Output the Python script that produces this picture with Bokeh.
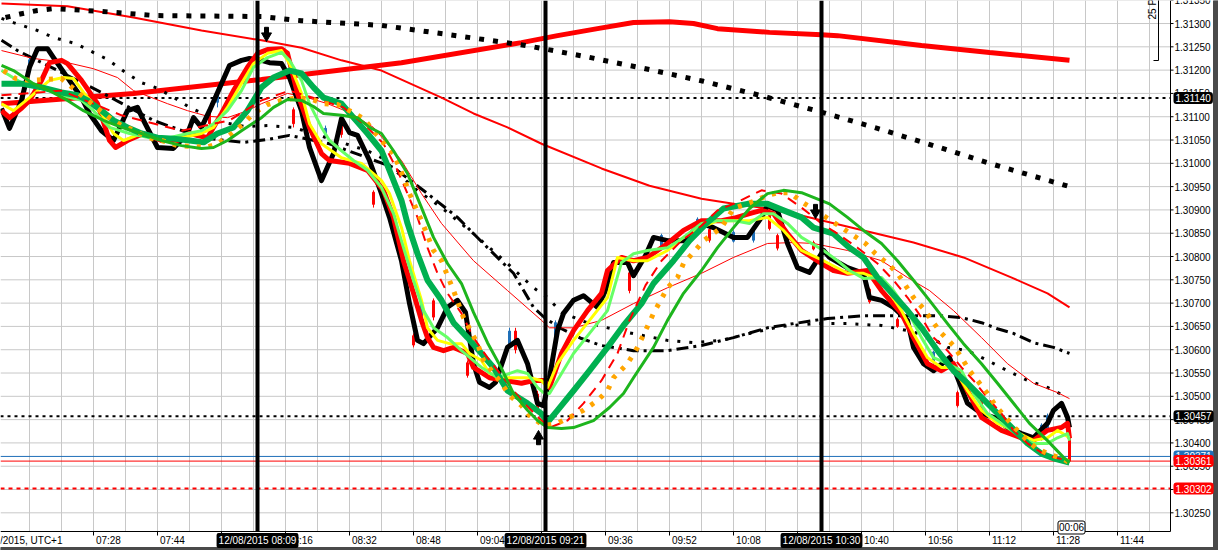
import math
from bokeh.plotting import figure
from bokeh.models import Label, Range1d
from bokeh.embed import file_html
from bokeh.resources import INLINE
from bokeh.core.properties import value

FONT = "Liberation Sans"

# ---------------- data (time = minutes after 07:00, 12/08/2015 UTC+1) ----------------
black_price = [(5,1.31118),(7,1.31075),(10,1.31135),(12,1.31206),(14,1.31246),(16.5,1.31246),(18,1.31227),(21.5,1.31184),(25,1.31141),(27,1.31107),(30,1.31070),(33,1.31049),(36.5,1.31113),(39,1.31120),(40.5,1.31092),(44,1.31034),(48,1.31032),(51.5,1.31064),(53,1.31098),(55,1.31077),(57,1.31113),(60,1.31171),(62,1.31210),(65,1.31221),(67,1.31225),(70,1.31221),(72,1.31216),(75,1.31214),(77,1.31184),(80,1.31113),(82,1.31034),(85,1.30963),(88,1.31021),(90,1.31096),(92,1.31066),(94,1.31060),(97,1.31006),(100,1.30935),(102,1.30884),(105,1.30791),(107,1.30699),(109,1.30620),(110.5,1.30613),(114,1.30647),(116.5,1.30691),(119,1.30706),(121,1.30680),(123,1.30570),(124.5,1.30530),(127,1.30519),(128.5,1.30530),(131.5,1.30605),(134,1.30620),(136.5,1.30570),(139,1.30485),(140.5,1.30480),(142,1.30540),(144,1.30641),(145.5,1.30678),(148,1.30706),(150.5,1.30716),(154,1.30691),(156,1.30727),(158,1.30787),(161.5,1.30787),(163,1.30759),(166,1.30802),(168,1.30841),(171.5,1.30834),(175.5,1.30834),(180,1.30871),(183,1.30862),(188,1.30841),(191.5,1.30841),(195,1.30884),(196.5,1.30910),(199,1.30899),(201.5,1.30828),(204,1.30776),(207,1.30766),(210.5,1.30813),(212,1.30798),(216.5,1.30776),(220.5,1.30764),(222,1.30712),(225,1.30706),(228,1.30691),(231.5,1.30663),(233,1.30605),(235.5,1.30570),(238,1.30555),(242,1.30583),(244,1.30540),(246.5,1.30485),(250,1.30463),(253,1.30455),(256.5,1.30433),(260,1.30420),(263,1.30411),(266.5,1.30442),(268,1.30470),(270,1.30485),(271.5,1.30455),(272,1.30433)]

red_fast = [(5,1.31113),(7,1.31098),(10,1.31118),(12,1.31135),(15,1.31178),(17,1.31216),(20,1.31221),(21.5,1.31214),(25,1.31178),(29,1.31128),(32,1.31049),(33.5,1.31034),(36.5,1.31049),(40.5,1.31064),(45,1.31049),(49,1.31049),(52,1.31064),(56.5,1.31055),(60,1.31107),(63,1.31156),(66.5,1.31206),(69,1.31236),(71.5,1.31244),(75,1.31246),(76.5,1.31236),(79,1.31150),(82,1.31077),(85,1.31021),(87,1.31006),(92,1.31000),(96.5,1.30985),(100.5,1.30942),(103,1.30884),(105.5,1.30791),(108,1.30721),(110,1.30663),(111.5,1.30626),(113,1.30605),(115.5,1.30598),(118,1.30605),(121.5,1.30592),(123,1.30562),(127,1.30540),(135,1.30528),(138,1.30534),(140.5,1.30534),(142,1.30519),(145,1.30592),(148,1.30641),(151.5,1.30684),(155,1.30721),(156.5,1.30770),(160,1.30798),(163,1.30791),(166.5,1.30798),(171.5,1.30828),(175.5,1.30856),(180,1.30877),(185,1.30877),(188,1.30882),(192,1.30892),(195,1.30899),(198,1.30892),(201.5,1.30849),(205,1.30813),(210,1.30785),(213,1.30770),(216.5,1.30764),(221.5,1.30770),(225,1.30727),(230,1.30678),(233,1.30626),(236.5,1.30570),(240,1.30555),(243,1.30570),(246.5,1.30512),(250,1.30455),(255,1.30427),(260,1.30411),(263,1.30405),(266.5,1.30427),(270,1.30433),(271.5,1.30442),(272,1.30410)]

yellow_ma = [(5,1.31128),(8,1.31113),(12,1.31141),(17,1.31178),(20.5,1.31184),(23,1.31182),(25.5,1.31152),(30,1.31107),(33,1.31064),(35.5,1.31049),(40,1.31064),(45,1.31055),(50,1.31055),(55,1.31064),(58,1.31077),(61.5,1.31120),(65,1.31171),(68,1.31214),(71.5,1.31236),(75,1.31242),(77,1.31214),(80,1.31150),(82,1.31085),(85,1.31042),(90,1.31012),(95,1.31000),(100,1.30963),(102,1.30935),(105,1.30862),(107,1.30791),(110,1.30706),(111.5,1.30647),(114,1.30620),(117,1.30613),(120,1.30613),(122,1.30592),(125,1.30577),(127,1.30549),(131.5,1.30540),(137,1.30540),(140,1.30534),(141.5,1.30519),(144,1.30570),(148,1.30620),(152,1.30663),(156.5,1.30712),(159,1.30798),(163,1.30791),(166.5,1.30791),(171.5,1.30813),(175.5,1.30841),(180,1.30862),(184,1.30877),(192,1.30877),(196.5,1.30884),(200.5,1.30856),(205,1.30813),(210.5,1.30791),(216.5,1.30764),(220.5,1.30764),(225,1.30749),(230,1.30684),(233,1.30635),(236.5,1.30583),(240,1.30562),(243,1.30562),(246.5,1.30512),(250,1.30470),(254,1.30442),(258,1.30427),(263,1.30405),(266.5,1.30411),(269,1.30427),(272,1.30411)]

lightgreen_ma = [(5,1.31199),(10,1.31173),(15,1.31163),(20,1.31146),(25,1.31135),(28,1.31113),(32,1.31077),(37,1.31064),(42,1.31055),(47,1.31055),(51.5,1.31064),(55,1.31070),(58,1.31085),(61.5,1.31113),(65,1.31156),(68,1.31206),(71.5,1.31227),(75,1.31238),(77,1.31221),(80,1.31178),(82,1.31128),(85,1.31077),(87,1.31049),(90,1.31027),(93,1.31006),(96.5,1.30985),(100,1.30948),(103,1.30892),(105.5,1.30819),(108,1.30749),(110.5,1.30684),(113,1.30647),(116.5,1.30626),(120,1.30598),(125,1.30562),(129,1.30540),(134,1.30555),(136.5,1.30549),(139,1.30519),(140.5,1.30508),(142,1.30506),(145,1.30549),(148,1.30592),(152,1.30635),(156.5,1.30684),(160,1.30787),(163,1.30806),(166.5,1.30813),(171.5,1.30819),(175.5,1.30841),(180,1.30871),(184,1.30877),(188,1.30877),(192,1.30871),(195.5,1.30892),(198,1.30892),(201.5,1.30871),(205,1.30841),(210.5,1.30813),(214,1.30791),(217,1.30770),(220.5,1.30753),(225,1.30755),(228,1.30727),(231.5,1.30684),(235,1.30626),(238,1.30583),(241.5,1.30570),(245,1.30555),(248,1.30506),(251.5,1.30463),(256.5,1.30433),(260,1.30411),(263,1.30399),(266.5,1.30399),(269,1.30411),(271.5,1.30420),(272,1.30405)]

darkgreen_ma = [(5,1.31171),(10,1.31171),(15,1.31163),(20,1.31152),(24,1.31146),(26.5,1.31135),(30,1.31113),(33,1.31092),(36.5,1.31077),(40,1.31064),(44,1.31055),(48,1.31053),(52,1.31049),(55.5,1.31045),(59,1.31064),(63,1.31077),(66.5,1.31113),(70,1.31163),(73,1.31184),(77,1.31199),(80,1.31193),(83,1.31163),(85.5,1.31141),(90,1.31128),(93,1.31098),(96.5,1.31064),(100,1.31027),(102,1.30985),(105,1.30920),(106.5,1.30871),(109,1.30806),(111.5,1.30749),(115,1.30706),(118,1.30658),(121.5,1.30626),(125,1.30592),(128,1.30562),(131.5,1.30512),(136.5,1.30485),(140,1.30463),(141.5,1.30444),(144,1.30470),(148,1.30512),(152,1.30555),(156.5,1.30605),(160.5,1.30652),(165,1.30699),(168,1.30742),(173,1.30791),(177,1.30834),(181.5,1.30873),(185.5,1.30903),(191.5,1.30913),(196.5,1.30913),(200.5,1.30899),(205,1.30884),(208,1.30862),(213,1.30849),(217,1.30819),(220.5,1.30798),(224,1.30755),(227,1.30727),(231.5,1.30684),(235,1.30647),(239,1.30598),(243,1.30555),(246.5,1.30528),(251.5,1.30485),(256.5,1.30442),(261.5,1.30399),(265,1.30377),(268,1.30367),(272,1.30358)]

red_dashed_ma = [(5,1.31146),(20,1.31156),(35,1.31103),(50,1.31070),(62,1.31092),(70,1.31135),(77,1.31156),(85,1.31135),(90.5,1.31120),(96.5,1.31077),(100.5,1.31042),(104,1.30985),(106.5,1.30935),(109,1.30884),(111.5,1.30819),(114,1.30764),(116.5,1.30721),(120,1.30678),(123,1.30626),(126.5,1.30583),(130,1.30545),(135,1.30491),(140,1.30448),(142,1.30433),(146.5,1.30448),(150.5,1.30485),(155,1.30534),(159,1.30592),(162,1.30663),(166,1.30738),(170,1.30791),(175,1.30834),(180,1.30866),(184,1.30899),(188,1.30913),(195,1.30942),(200,1.30935),(205,1.30905),(210,1.30871),(214,1.30849),(219,1.30819),(224,1.30785),(228,1.30749),(231.5,1.30712),(235,1.30669),(238,1.30626),(241.5,1.30598),(245,1.30562),(248,1.30534),(251.5,1.30497),(255,1.30463),(258,1.30427),(261.5,1.30399),(265,1.30379),(268,1.30369),(272,1.30362)]

orange_ma = [(5.5,1.31199),(8.5,1.31182),(12,1.31178),(16,1.31180),(20,1.31182),(25,1.31146),(29,1.31118),(32,1.31098),(35,1.31081),(38.5,1.31070),(41.5,1.31055),(45,1.31049),(49,1.31038),(53,1.31036),(56,1.31034),(59,1.31042),(62,1.31060),(65.5,1.31085),(68,1.31107),(71.5,1.31126),(75,1.31135),(78,1.31139),(82,1.31139),(85.5,1.31128),(89,1.31126),(92,1.31113),(95.5,1.31096),(100,1.31049),(103,1.31021),(105.5,1.30970),(107,1.30935),(110,1.30877),(113,1.30813),(115,1.30791),(118,1.30727),(120.5,1.30669),(124,1.30613),(125.5,1.30577),(130,1.30528),(132,1.30502),(135,1.30480),(137,1.30459),(140.5,1.30437),(144,1.30442),(147,1.30455),(150.5,1.30470),(154,1.30491),(156.5,1.30512),(158,1.30540),(161.5,1.30570),(164,1.30605),(166,1.30641),(168,1.30678),(171.5,1.30733),(174,1.30755),(175.5,1.30785),(178,1.30809),(180.5,1.30834),(185,1.30862),(188,1.30903),(192,1.30915),(196.5,1.30931),(199,1.30937),(202,1.30937),(205.5,1.30915),(211.5,1.30882),(215,1.30862),(218,1.30845),(221,1.30828),(223.5,1.30806),(226.5,1.30785),(229,1.30764),(231,1.30738),(233,1.30712),(235.5,1.30688),(238,1.30658),(240,1.30635),(243,1.30609),(245,1.30583),(247,1.30555),(249,1.30534),(251.5,1.30506),(253.5,1.30480),(256,1.30455),(258.5,1.30431),(261,1.30409),(263.5,1.30390),(266.5,1.30377),(270,1.30367),(272,1.30358)]

green_ma = [(5,1.31210),(8,1.31199),(13,1.31171),(17,1.31156),(21.5,1.31135),(25.5,1.31113),(30.5,1.31092),(35,1.31077),(40,1.31064),(45,1.31049),(50,1.31038),(55,1.31032),(58,1.31034),(61.5,1.31049),(65,1.31070),(70,1.31098),(73,1.31120),(76.5,1.31137),(80,1.31135),(83,1.31122),(85.5,1.31107),(90,1.31103),(94,1.31098),(97,1.31077),(100,1.31064),(103,1.31027),(106.5,1.30978),(110,1.30905),(113,1.30841),(116.5,1.30785),(120,1.30742),(123,1.30680),(126.5,1.30615),(130,1.30560),(133,1.30506),(136.5,1.30470),(139,1.30448),(141.5,1.30433),(145,1.30431),(148,1.30433),(153,1.30448),(157,1.30476),(160.5,1.30506),(163,1.30540),(168,1.30605),(171.5,1.30663),(175.5,1.30721),(180,1.30770),(184,1.30819),(188,1.30862),(192,1.30903),(196.5,1.30935),(200.5,1.30942),(205,1.30937),(210,1.30920),(212,1.30913),(216.5,1.30884),(220.5,1.30856),(225,1.30828),(229,1.30791),(233,1.30749),(237,1.30706),(241.5,1.30656),(245.5,1.30613),(250,1.30570),(254,1.30528),(258,1.30485),(262,1.30442),(266.5,1.30405),(270.5,1.30369),(272,1.30358)]

thin_red_ma = [(5,1.31242),(13,1.31225),(21.5,1.31216),(28,1.31203),(34,1.31184),(38,1.31156),(46.5,1.31128),(51.5,1.31113),(56.5,1.31101),(61.5,1.31098),(66.5,1.31113),(70,1.31128),(76.5,1.31150),(81.5,1.31141),(86.5,1.31128),(92,1.31109),(98,1.31077),(105,1.31006),(110,1.30935),(115,1.30871),(123,1.30791),(131.5,1.30727),(140,1.30663),(142,1.30647),(148,1.30647),(155,1.30663),(163,1.30699),(171.5,1.30733),(180,1.30764),(188,1.30798),(196.5,1.30828),(203,1.30830),(208,1.30828),(216.5,1.30813),(225,1.30791),(231.5,1.30755),(237,1.30727),(243,1.30684),(250,1.30626),(256.5,1.30570),(263,1.30528),(269,1.30508),(272,1.30495)]

slow_red_ma = [(5,1.31343),(21.5,1.31337),(38,1.31313),(55,1.31285),(70,1.31264),(80,1.31248),(90,1.31221),(100,1.31199),(115,1.31141),(123,1.31107),(131.5,1.31077),(140,1.31042),(155,1.30989),(167,1.30952),(180,1.30924),(188,1.30913),(196.5,1.30903),(205,1.30888),(220.5,1.30856),(233,1.30830),(245.5,1.30798),(258,1.30753),(266.5,1.30721),(272,1.30691)]

thick_red_ma = [(5,1.31128),(38,1.31150),(70,1.31180),(105,1.31216),(135,1.31259),(144,1.31274),(154,1.31289),(163,1.31302),(172,1.31304),(178,1.31300),(184,1.31289),(197,1.31281),(210,1.31276),(214,1.31274),(235,1.31253),(252,1.31238),(272,1.31221)]

big_dot_ma = [(6,1.31313),(10,1.31321),(14,1.31328),(18,1.31332),(30,1.31326),(43.5,1.31317),(70,1.31315),(80,1.31306),(100,1.31296),(117,1.31276),(136,1.31253),(151,1.31229),(166,1.31203),(180.5,1.31176),(195,1.31145),(209.5,1.31111),(224,1.31075),(238,1.31038),(252,1.31000),(272,1.30950)]

small_dot_ma = [(5,1.31311),(8,1.31302),(14,1.31285),(18,1.31270),(23.5,1.31257),(27,1.31242),(31.5,1.31223),(36,1.31195),(40,1.31173),(44,1.31161),(48.5,1.31139),(52,1.31120),(56.5,1.31103),(60,1.31088),(66,1.31079),(71.5,1.31081),(78,1.31077),(87,1.31053),(96.5,1.31027),(100,1.31012),(108,1.30948),(115,1.30905),(123,1.30849),(131.5,1.30785),(138,1.30733),(141.5,1.30712),(145,1.30680),(152,1.30656),(161.5,1.30637),(171.5,1.30620),(178,1.30615),(185,1.30620),(192,1.30635),(200,1.30650),(208,1.30656),(216.5,1.30656),(225,1.30652),(231.5,1.30641),(236.5,1.30630),(241.5,1.30605),(246.5,1.30598),(251.5,1.30577),(256.5,1.30555),(261.5,1.30534),(266.5,1.30519),(270.5,1.30502)]

dash_dot_ma = [(5,1.31264),(9,1.31242),(20,1.31195),(30,1.31152),(43,1.31092),(55,1.31055),(65.5,1.31045),(71.5,1.31051),(77,1.31060),(87,1.31042),(103,1.30991),(111.5,1.30935),(119,1.30884),(126.5,1.30819),(133,1.30764),(138,1.30691),(141,1.30667),(145,1.30645),(150,1.30624),(155,1.30609),(163,1.30598),(171.5,1.30598),(180,1.30609),(188,1.30626),(196.5,1.30647),(203,1.30656),(211.5,1.30667),(220.5,1.30673),(231.5,1.30673),(239.5,1.30673),(245,1.30669),(250,1.30658),(254,1.30645),(258,1.30635),(263,1.30615),(268,1.30605),(272,1.30592)]

# candles: (time, open, high, low, close)
candles = [(12,1.31203,1.31227,1.31199,1.31222),(57,1.31110,1.31113,1.31080,1.31085),(59,1.31131,1.31156,1.31120,1.31152),
           (78,1.31115,1.31120,1.31077,1.31085),(86,1.31060,1.31081,1.31055,1.31075),(90,1.31092,1.31098,1.31055,1.31062),
           (98,1.30938,1.30942,1.30905,1.30912),(108,1.30630,1.30635,1.30605,1.30610),(110,1.30673,1.30712,1.30669,1.30705),
           (113,1.30705,1.30710,1.30663,1.30670),(121.5,1.30572,1.30577,1.30540,1.30545),(132,1.30610,1.30647,1.30605,1.30640),
           (133.5,1.30640,1.30647,1.30592,1.30600),(139,1.30505,1.30512,1.30463,1.30470),(143.5,1.30630,1.30663,1.30626,1.30658),
           (162,1.30765,1.30770,1.30721,1.30727),(170,1.30822,1.30849,1.30819,1.30845),(179,1.30860,1.30884,1.30856,1.30880),
           (182,1.30858,1.30862,1.30830,1.30835),(188,1.30833,1.30856,1.30830,1.30852),(193,1.30835,1.30862,1.30830,1.30858),
           (197,1.30888,1.30892,1.30856,1.30860),(199,1.30845,1.30849,1.30813,1.30818),(208,1.30830,1.30834,1.30813,1.30816),
           (222,1.30730,1.30733,1.30699,1.30703),(229,1.30665,1.30669,1.30647,1.30650),(238,1.30575,1.30598,1.30570,1.30595),
           (244,1.30508,1.30512,1.30476,1.30480),(250,1.30493,1.30497,1.30463,1.30466),(265,1.30408,1.30442,1.30405,1.30438),
           (266.5,1.30430,1.30463,1.30427,1.30458),(272,1.30410,1.30412,1.30358,1.30361)]

# horizontal price levels
level_prices = [1.31140, 1.30457, 1.30371, 1.30361, 1.30302]
level_texts = ["1.31140", "1.30457", "1.30371", "1.30361", "1.30302"]
level_colors = ["black", "black", "#1f6fb8", "#ff0000", "#ff0000"]
level_dashes = ["3 4", "3 4", "solid", "solid", "4 4"]
level_widths = [2, 2, 1, 1, 2]

# vertical markers
vline_minutes = [69, 141, 210]
vline_texts = ["12/08/2015 08:09", "12/08/2015 09:21", "12/08/2015 10:30"]

# signal arrows
arrow_minutes = [71.25, 208.5, 139.25]
arrow_prices = [1.31279, 1.30899, 1.30409]
arrow_dirs = ["down", "down", "up"]

# axes
tick_minutes = [28, 44, 60, 76, 92, 108, 124, 140, 156, 172, 188, 204, 220, 236, 252, 268, 284]
tick_labels = ["07:28", "07:44", "08:00", "08:16", "08:32", "08:48", "09:04", "09:20", "09:36",
               "09:52", "10:08", "10:24", "10:40", "10:56", "11:12", "11:28", "11:44"]
grid_minutes = [12, 20, 28, 36, 44, 52, 60, 68, 76, 84, 92, 100, 108, 116, 124, 132, 140, 148, 156,
                164, 172, 180, 188, 196, 204, 212, 220, 228, 236, 244, 252, 260, 268, 276, 284, 292]
price_ticks = [1.30250, 1.30300, 1.30350, 1.30400, 1.30450, 1.30500, 1.30550, 1.30600, 1.30650, 1.30700,
               1.30750, 1.30800, 1.30850, 1.30900, 1.30950, 1.31000, 1.31050, 1.31100, 1.31150, 1.31200,
               1.31250, 1.31300, 1.31350]
scale_pips = 25
countdown_text = "00:06"
countdown_minute = 272.5
date_text = "12/08/2015, UTC+1"

# ---------------- layout (screen pixel helpers) ----------------
W, H = 1218, 550
PX_PER_MIN = 4.0
PX_PER_PRICE = 46600.0
X0 = 4.75
X1 = X0 + W / PX_PER_MIN
Y1 = 1.313494
Y0 = Y1 - H / PX_PER_PRICE

def sx(px):
    return X0 + px / PX_PER_MIN

def sy(py):
    return Y1 - py / PX_PER_PRICE

AX_X = sx(1170)   # right price axis
AX_Y = sy(531)    # bottom time axis
LAB_Y = sy(540)

p = figure(width=W, height=H, x_range=Range1d(X0, X1), y_range=Range1d(Y0, Y1),
           x_axis_location=None, y_axis_location=None, output_backend="svg", toolbar_location=None,
           min_border=0, outline_line_color=None, background_fill_color="white",
           border_fill_color="white")
p.grid.visible = False

# grid
GRID = "#c8c8c8"
p.segment(grid_minutes, [AX_Y] * len(grid_minutes), grid_minutes, [Y1] * len(grid_minutes),
          color=GRID, line_width=1)
p.segment([X0] * len(price_ticks), price_ticks, [AX_X] * len(price_ticks), price_ticks,
          color=GRID, line_width=1)

# horizontal levels
for lv, col, dash, w in zip(level_prices, level_colors, level_dashes, level_widths):
    p.line([X0, AX_X], [lv, lv], color=col, line_dash=dash, line_width=w)

def cols(pairs):
    return [a for a, _ in pairs], [b for _, b in pairs]

# candles
c_t = [c[0] for c in candles]
c_o = [c[1] for c in candles]
c_h = [c[2] for c in candles]
c_l = [c[3] for c in candles]
c_c = [c[4] for c in candles]
c_col = ["#ff0000" if c < o else "#1f6fb8" for o, c in zip(c_o, c_c)]
p.segment(c_t, c_h, c_t, c_l, color=c_col, line_width=1)
p.vbar(x=c_t, width=0.5, top=c_o, bottom=c_c, color=c_col)

def ln(pairs, **kw):
    x, y = cols(pairs)
    p.line(x, y, **kw)

ln(thick_red_ma, color="#ff0000", line_width=5)
ln(slow_red_ma, color="#ff0000", line_width=2)
ln(big_dot_ma, color="black", line_width=5, line_dash="5 9")
ln(small_dot_ma, color="black", line_width=3, line_dash="3 9")
ln(dash_dot_ma, color="black", line_width=3, line_dash="12 5 3 5")
ln(thin_red_ma, color="#ff0000", line_width=1)
ln(black_price, color="black", line_width=5, line_join="round")
ln(red_fast, color="#ff0000", line_width=5, line_join="round")
ln(yellow_ma, color="#ffff00", line_width=3, line_join="round")
ln(lightgreen_ma, color="#66ff66", line_width=3, line_join="round")
ln(darkgreen_ma, color="#00b050", line_width=6, line_join="round")
ln(red_dashed_ma, color="#ff0000", line_width=2, line_dash="10 7")
ln(orange_ma, color="#ffa500", line_width=5, line_dash="4 8")
ln(green_ma, color="#1db51d", line_width=3, line_join="round")

# signal arrows
ppx = 1.0 / PX_PER_PRICE
heads_y, heads_m, shaft_y = [], [], []
for pr, d in zip(arrow_prices, arrow_dirs):
    if d == "down":
        heads_y.append(pr - 2.5 * ppx)
        shaft_y.append(pr + 3 * ppx)
        heads_m.append("inverted_triangle")
    else:
        heads_y.append(pr + 2.5 * ppx)
        shaft_y.append(pr - 3 * ppx)
        heads_m.append("triangle")
p.scatter(arrow_minutes, heads_y, marker=heads_m, size=10, color="black")
p.rect(arrow_minutes, shaft_y, width=4, height=6, width_units="screen", height_units="screen", color="black")

# vertical markers
p.segment(vline_minutes, [AX_Y] * 3, vline_minutes, [Y1] * 3, color="black", line_width=4)

# 25-pip scale bar
scale_x = sx(1158)
scale_base = sy(60)
p.segment([scale_x, sx(1153)], [scale_base, scale_base], [scale_x, scale_x],
          [scale_base + scale_pips * 0.0001, scale_base], color="black", line_width=1)
p.text([sx(1151.5)], [sy(19)], text=[f"{scale_pips} Pips"], angle=math.pi / 2,
       text_font=value(FONT), text_font_size="10px", text_align="left", text_baseline="middle",
       text_color="black")

# axes drawn by hand
p.segment([AX_X, X0], [AX_Y, AX_Y], [AX_X, AX_X], [Y1, AX_Y], color="black", line_width=1)
p.segment([AX_X] * len(price_ticks), price_ticks, [sx(1173)] * len(price_ticks), price_ticks,
          color="black", line_width=1)
p.text([sx(1174)] * len(price_ticks), price_ticks, text=[f"{v:.5f}" for v in price_ticks],
       text_font=value(FONT), text_font_size="10px", text_align="left", text_baseline="middle",
       text_color="black")
p.segment(tick_minutes, [AX_Y] * len(tick_minutes), tick_minutes, [sy(535)] * len(tick_minutes),
          color="black", line_width=1)
p.text([m + 0.6 for m in tick_minutes], [LAB_Y] * len(tick_minutes), text=tick_labels,
       text_font=value(FONT), text_font_size="10px", text_align="left", text_baseline="middle",
       text_color="black")
p.text([sx(62)], [LAB_Y], text=[date_text], text_font=value(FONT), text_font_size="10px",
       text_align="right", text_baseline="middle", text_color="black")

# window frame (dark border right and bottom)
p.quad(left=[sx(1213), X0], right=[X1, X1], bottom=[Y0, Y0], top=[Y1, sy(547)], color="#4a4a4a")

# boxed labels
for m, t in zip(vline_minutes, vline_texts):
    p.add_layout(Label(x=m, y=LAB_Y, text=t, text_align="center", text_baseline="middle",
                       text_color="white", text_font=FONT, text_font_size="10px",
                       background_fill_color="black", padding=2, border_radius=2))

p.add_layout(Label(x=countdown_minute, y=sy(527), text=countdown_text, text_align="center",
                   text_baseline="middle", text_color="black", text_font=FONT, text_font_size="10px",
                   background_fill_color="white", border_line_color="black", padding=1, border_radius=2))

for lv, txt, col in zip(level_prices, level_texts, level_colors):
    p.add_layout(Label(x=sx(1173), y=lv, text=txt, text_align="left", text_baseline="middle",
                       text_color="white", text_font=FONT, text_font_size="10px",
                       background_fill_color=col, padding=2, border_radius=3))

open("out.html", "w").write(file_html(p, INLINE))
